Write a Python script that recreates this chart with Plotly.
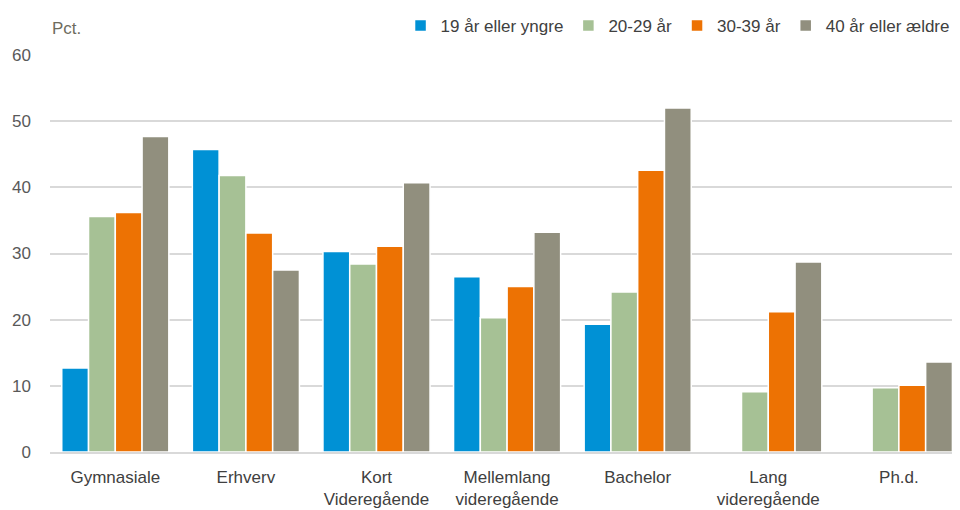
import plotly.graph_objects as go

categories = ["Gymnasiale", "Erhverv", "Kort<br>Videregående", "Mellemlang<br>videregående",
              "Bachelor", "Lang<br>videregående", "Ph.d."]
series_names = ["19 år eller yngre", "20-29 år", "30-39 år", "40 år eller ældre"]
v_19 = [12.7, 45.7, 30.3, 26.5, 19.3, None, None]
v_20_29 = [35.6, 41.8, 28.4, 20.3, 24.2, 9.1, 9.7]
v_30_39 = [36.2, 33.1, 31.1, 25.0, 42.6, 21.2, 10.1]
v_40 = [47.7, 27.5, 40.7, 33.2, 52.0, 28.7, 13.6]
y_ticks = [0, 10, 20, 30, 40, 50, 60]

colors = ["#0091D5", "#A6C195", "#ED7203", "#918F7E"]
FONT = "Liberation Sans, Arial, sans-serif"

fig = go.Figure()
for name, vals, col in zip(series_names, [v_19, v_20_29, v_30_39, v_40], colors):
    fig.add_trace(go.Bar(
        x=categories, y=vals, name=name,
        marker=dict(color=col, line=dict(color="white", width=1.5)),
    ))

# page body has an 8px default margin, so the figure is sized 952x502
fig.update_layout(
    width=952, height=502,
    margin=dict(l=42, r=0, t=47, b=58, autoexpand=False),
    plot_bgcolor="white", paper_bgcolor="white",
    barmode="group", bargap=0.18, bargroupgap=0.0,
    font=dict(family=FONT, size=17, color="#404040"),
    legend=dict(orientation="h", x=0.994, xanchor="right", y=1.0, yanchor="top",
                yref="container", font=dict(size=17, color="#404040"),
                bgcolor="rgba(0,0,0,0)"),
    xaxis=dict(range=[-0.5, 6.468], showgrid=False, showline=True,
               linecolor="#D9D9D9", linewidth=1.5, ticks="", tickangle=0,
               automargin=False, ticklabelstandoff=9,
               tickfont=dict(size=17, color="#404040")),
    yaxis=dict(range=[0, 60], tickvals=y_ticks, showgrid=True,
               gridcolor="#D9D9D9", gridwidth=1.5, zeroline=False,
               automargin=False, ticklabelstandoff=18,
               tickfont=dict(size=17, color="#595959")),
    annotations=[dict(text="Pct.", xref="paper", yref="paper", x=0, y=1.0,
                      xanchor="left", yanchor="bottom", yshift=15, showarrow=False,
                      font=dict(size=17, color="#6E6C5E"))],
)

fig.write_html("out.html")
